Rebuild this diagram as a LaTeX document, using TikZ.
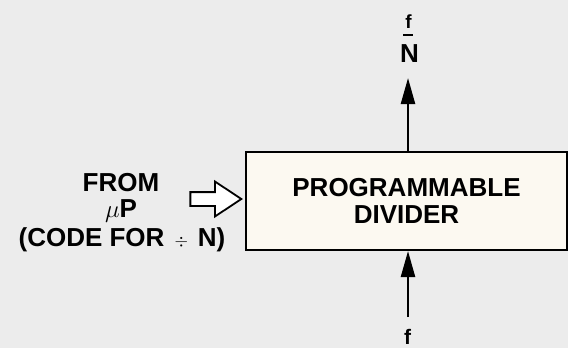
\documentclass[tikz,border=0pt]{standalone}
\usepackage{fontspec}
\setmainfont{Liberation Sans}
\usetikzlibrary{arrows.meta,positioning,shapes.arrows}
\definecolor{paper}{RGB}{236,236,236}
\definecolor{cream}{RGB}{252,249,241}

\begin{document}
\begin{tikzpicture}[
  x=1pt, y=-1pt,
  font=\fontsize{26}{27}\selectfont\bfseries,
  box/.style={
    draw,
    line width=2pt,
    fill=cream,
    align=center,
    minimum width=321pt,
    minimum height=98pt,
    inner sep=0pt
  },
  lbl/.style={inner sep=0pt, anchor=base},
  hollow/.style={
    single arrow,
    draw,
    line width=1.8pt,
    fill=white,
    inner xsep=0pt,
    inner ysep=6pt,
    minimum height=51pt,
    single arrow head extend=10.5pt,
    single arrow tip angle=67
  },
  arrow/.style={-{Triangle[length=26pt,width=14pt]},line width=2.4pt}
]
  \fill[paper] (0,0) rectangle (568,348);
  \useasboundingbox (0,0) rectangle (568,348);

  \node[box] (div) at (406.5,201) {PROGRAMMABLE\\[0pt]DIVIDER};

  \node[lbl] (from) at (121,191) {FROM};
  \node[lbl] (mup) at (121,217) {$\mu$P};
  \node[lbl] (code) at (122,246) {(CODE FOR\hspace{10pt}{\fontsize{18}{18}\selectfont$\div$}\hspace{10pt}N)};

  \node[hollow,anchor=tip] (inarr) at (243,199) {};

  \node[lbl,font=\fontsize{19}{19}\selectfont\bfseries] (fout) at (408.5,28) {f};
  \draw[line width=1.2pt] (403,35) -- (413,35);
  \node[lbl] (nout) at (409.5,62) {N};
  \coordinate (top) at (408,78);
  \draw[arrow] (div.north -| top) -- (top);

  \node[lbl,font=\fontsize{21}{21}\selectfont\bfseries] (fin) at (407.5,344) {f};
  \coordinate (bot) at (408,317);
  \draw[arrow] (bot) -- (bot |- div.south);
\end{tikzpicture}
\end{document}
